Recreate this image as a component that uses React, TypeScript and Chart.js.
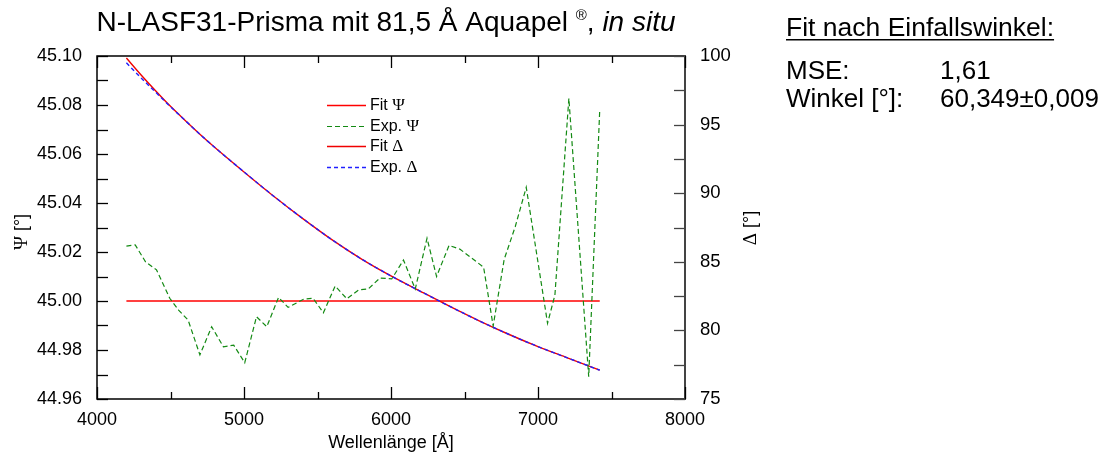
import React, { useEffect, useRef } from "react";
import { Chart, registerables } from "chart.js";

Chart.register(...registerables);

// ---------- data ----------
const EXP_PSI_WAVELENGTH = [
  4200, 4260, 4330, 4405, 4495, 4555, 4620, 4700, 4780, 4860, 4930, 5005, 5085, 5155,
  5235, 5300, 5405, 5470, 5540, 5620, 5700, 5780, 5845, 5925, 6005, 6085, 6165, 6245,
  6310, 6395, 6470, 6630, 6695, 6770, 6845, 6920, 7065, 7115, 7210, 7345, 7420,
];
const EXP_PSI = [
  45.0224, 45.0229, 45.016, 45.0127, 45.0011, 44.9963, 44.9922, 44.978, 44.9895, 44.9813,
  44.982, 44.9748, 44.9936, 44.9895, 45.0015, 44.9974, 45.0007, 45.0011, 44.9952, 45.0061,
  45.0009, 45.0045, 45.0049, 45.0094, 45.009, 45.0167, 45.0049, 45.0256, 45.01, 45.0227,
  45.0211, 45.0138, 44.9898, 45.017, 45.0303, 45.0464, 44.9909, 45.0024, 45.0827, 44.9691,
  45.078,
];

const FIT_WAVELENGTH = [
  4200, 4300, 4400, 4500, 4600, 4700, 4800, 5000, 5200, 5400, 5600, 5800, 6000, 6200,
  6400, 6600, 6800, 7000, 7200, 7420,
];
const FIT_PSI = [
  45.0, 45.0, 45.0, 45.0, 45.0, 45.0, 45.0, 45.0, 45.0, 45.0, 45.0, 45.0, 45.0, 45.0,
  45.0, 45.0, 45.0, 45.0, 45.0, 45.0,
];
const FIT_DELTA = [
  99.85, 98.62, 97.45, 96.33, 95.3, 94.3, 93.35, 91.55, 89.8, 88.15, 86.6, 85.2, 83.97,
  82.85, 81.75, 80.7, 79.72, 78.82, 78.0, 77.1,
];
const EXP_DELTA = [
  99.5, 98.4, 97.35, 96.3, 95.3, 94.3, 93.35, 91.55, 89.8, 88.15, 86.6, 85.2, 83.97,
  82.85, 81.75, 80.7, 79.72, 78.82, 78.0, 77.1,
];

const X_TICKS = [4000, 5000, 6000, 7000, 8000];
const X_MINOR = [4500, 5500, 6500, 7500];
const PSI_TICKS = [44.96, 44.98, 45.0, 45.02, 45.04, 45.06, 45.08, 45.1];
const PSI_MINOR = [44.97, 44.99, 45.01, 45.03, 45.05, 45.07, 45.09];
const DELTA_TICKS = [75, 80, 85, 90, 95, 100];
const DELTA_MINOR = [77.5, 82.5, 87.5, 92.5, 97.5];

const LEGEND_LABELS = ["Fit ", "Exp. ", "Fit ", "Exp. "];
const LEGEND_SYMBOLS = ["Ψ", "Ψ", "Δ", "Δ"];
const TITLE_MAIN = "N-LASF31-Prisma mit 81,5 Å Aquapel ";
const TITLE_SUP = "®";
const TITLE_COMMA = ", ";
const TITLE_ITALIC = "in situ";
const X_TITLE = "Wellenlänge [Å]";
const INFO_HEAD = "Fit nach Einfallswinkel:";
const INFO_LABELS = ["MSE:", "Winkel [°]:"];
const INFO_VALUES = ["1,61", "60,349±0,009"];

// ---------- styling ----------
const SANS = "Arial, 'Liberation Sans', Helvetica, sans-serif";
const SERIF = "'Times New Roman', 'Liberation Serif', serif";
const W = 1104;
const H = 459;
const PLOT_LEFT = 97;
const PLOT_RIGHT = 685;
const PLOT_TOP = 56;
const PLOT_BOTTOM = 399;

const SERIES_COLORS = ["#ff0000", "#138a13", "#f00000", "#2020ff"];
const SERIES_WIDTHS = [1.5, 1.2, 1.4, 1.4];
const SERIES_DASHES: number[][] = [[], [5, 3], [], [4, 3]];

type Run = { text: string; font: string; dy?: number };

function runsWidth(ctx: CanvasRenderingContext2D, runs: Run[]) {
  let w = 0;
  for (const r of runs) {
    ctx.font = r.font;
    w += ctx.measureText(r.text).width;
  }
  return w;
}

function drawRuns(ctx: CanvasRenderingContext2D, runs: Run[], x: number, y: number) {
  let cx = x;
  for (const r of runs) {
    ctx.font = r.font;
    ctx.fillText(r.text, cx, y + (r.dy || 0));
    cx += ctx.measureText(r.text).width;
  }
  return cx - x;
}

const decorPlugin = {
  id: "decor",
  afterDraw(chart: any) {
    const ctx: CanvasRenderingContext2D = chart.ctx;
    const { left, right, top, bottom } = chart.chartArea;
    const xs = chart.scales.x;
    const ys = chart.scales.y;
    const y2 = chart.scales.y2;
    ctx.save();
    ctx.setLineDash([]);
    ctx.strokeStyle = "#000";
    ctx.fillStyle = "#000";

    // frame
    ctx.lineWidth = 1.5;
    ctx.beginPath();
    ctx.moveTo(right, top);
    ctx.lineTo(left, top);
    ctx.lineTo(left, bottom);
    ctx.lineTo(right, bottom);
    ctx.stroke();
    ctx.strokeStyle = "#444";
    ctx.lineWidth = 2;
    ctx.beginPath();
    ctx.moveTo(right, top - 1);
    ctx.lineTo(right, bottom + 1);
    ctx.stroke();

    // inward ticks
    ctx.strokeStyle = "#000";
    ctx.lineWidth = 1.3;
    const tick = (x1: number, y1: number, x2: number, yy2: number) => {
      ctx.beginPath();
      ctx.moveTo(x1, y1);
      ctx.lineTo(x2, yy2);
      ctx.stroke();
    };
    for (const v of X_TICKS) {
      const px = Math.round(xs.getPixelForValue(v)) + 0.5;
      tick(px, bottom, px, bottom - 12);
      tick(px, top, px, top + 12);
    }
    for (const v of X_MINOR) {
      const px = Math.round(xs.getPixelForValue(v)) + 0.5;
      tick(px, bottom, px, bottom - 7);
      tick(px, top, px, top + 7);
    }
    for (const v of [...PSI_TICKS, ...PSI_MINOR]) {
      const py = Math.round(ys.getPixelForValue(v)) + 0.5;
      tick(left, py, left + 11, py);
    }
    ctx.strokeStyle = "#444";
    for (const v of [...DELTA_TICKS, ...DELTA_MINOR]) {
      const py = Math.round(y2.getPixelForValue(v)) + 0.5;
      tick(right, py, right - 11, py);
    }

    // legend
    const legX = 327;
    const legY = [105, 125.5, 146, 166.5];
    ctx.textBaseline = "middle";
    ctx.textAlign = "left";
    for (let i = 0; i < 4; i++) {
      ctx.strokeStyle = SERIES_COLORS[i];
      ctx.lineWidth = SERIES_WIDTHS[i];
      ctx.setLineDash(SERIES_DASHES[i]);
      ctx.beginPath();
      ctx.moveTo(legX, Math.round(legY[i]) + 0.5);
      ctx.lineTo(legX + 39, Math.round(legY[i]) + 0.5);
      ctx.stroke();
      ctx.setLineDash([]);
      ctx.fillStyle = "#000";
      drawRuns(
        ctx,
        [
          { text: LEGEND_LABELS[i], font: `16px ${SANS}` },
          { text: LEGEND_SYMBOLS[i], font: `17px ${SERIF}` },
        ],
        legX + 43,
        legY[i] + 1
      );
    }

    // title
    ctx.fillStyle = "#000";
    ctx.textBaseline = "alphabetic";
    const titleRuns: Run[] = [
      { text: TITLE_MAIN, font: `28px ${SANS}` },
      { text: TITLE_SUP, font: `15px ${SANS}`, dy: -11 },
      { text: TITLE_COMMA, font: `28px ${SANS}` },
      { text: TITLE_ITALIC, font: `italic 28px ${SANS}` },
    ];
    const tw = runsWidth(ctx, titleRuns);
    drawRuns(ctx, titleRuns, 386 - tw / 2, 31);

    // x title
    ctx.font = `18px ${SANS}`;
    ctx.textAlign = "center";
    ctx.fillText(X_TITLE, (left + right) / 2, 448);
    ctx.textAlign = "left";

    // y titles (rotated)
    const rotTitle = (cx: number, cy: number, sym: string) => {
      const runs: Run[] = [
        { text: sym, font: `19px ${SERIF}` },
        { text: " [°]", font: `18px ${SANS}` },
      ];
      ctx.save();
      ctx.translate(cx, cy);
      ctx.rotate(-Math.PI / 2);
      ctx.textBaseline = "middle";
      const w = runsWidth(ctx, runs);
      drawRuns(ctx, runs, -w / 2, 0);
      ctx.restore();
    };
    rotTitle(22, 232, "Ψ");
    rotTitle(751, 228, "Δ");

    // info panel
    ctx.textBaseline = "alphabetic";
    ctx.font = `26.5px ${SANS}`;
    ctx.fillText(INFO_HEAD, 786, 36);
    const hw = ctx.measureText(INFO_HEAD).width;
    ctx.fillRect(786, 39, hw, 1.5);
    const rowsY = [79, 107];
    ctx.font = `26px ${SANS}`;
    for (let i = 0; i < INFO_LABELS.length; i++) {
      ctx.fillText(INFO_LABELS[i], 786, rowsY[i]);
      ctx.fillText(INFO_VALUES[i], 940, rowsY[i]);
    }
    ctx.restore();
  },
};

export default function App() {
  const ref = useRef<HTMLCanvasElement | null>(null);

  useEffect(() => {
    if (!ref.current) return;
    const toXY = (xs: number[], ys: number[]) => xs.map((x, i) => ({ x, y: ys[i] }));
    const chart = new Chart(ref.current, {
      type: "line",
      data: {
        datasets: [
          {
            label: "Fit Ψ",
            data: toXY(FIT_WAVELENGTH, FIT_PSI),
            yAxisID: "y",
            borderColor: SERIES_COLORS[0],
            borderWidth: SERIES_WIDTHS[0],
            pointRadius: 0,
            order: 3,
          },
          {
            label: "Exp. Ψ",
            data: toXY(EXP_PSI_WAVELENGTH, EXP_PSI),
            yAxisID: "y",
            borderColor: SERIES_COLORS[1],
            borderWidth: SERIES_WIDTHS[1],
            borderDash: SERIES_DASHES[1],
            pointRadius: 0,
            tension: 0,
            order: 1,
          },
          {
            label: "Fit Δ",
            data: toXY(FIT_WAVELENGTH, FIT_DELTA),
            yAxisID: "y2",
            borderColor: SERIES_COLORS[2],
            borderWidth: SERIES_WIDTHS[2],
            pointRadius: 0,
            cubicInterpolationMode: "monotone",
            order: 2,
          },
          {
            label: "Exp. Δ",
            data: toXY(FIT_WAVELENGTH, EXP_DELTA),
            yAxisID: "y2",
            borderColor: SERIES_COLORS[3],
            borderWidth: SERIES_WIDTHS[3],
            borderDash: SERIES_DASHES[3],
            pointRadius: 0,
            cubicInterpolationMode: "monotone",
            order: 0,
          },
        ] as any,
      },
      options: {
        responsive: false,
        animation: false,
        devicePixelRatio: 1,
        layout: { padding: { top: PLOT_TOP, left: 0, right: 0, bottom: 0 } },
        plugins: {
          legend: { display: false },
          title: { display: false },
          tooltip: { enabled: false },
        },
        scales: {
          x: {
            type: "linear",
            min: 4000,
            max: 8000,
            grid: { display: false, drawTicks: false },
            border: { display: false },
            afterBuildTicks: (s: any) => {
              s.ticks = X_TICKS.map((value) => ({ value }));
            },
            afterFit: (s: any) => {
              s.height = H - PLOT_BOTTOM;
            },
            ticks: {
              color: "#000",
              padding: 10,
              maxRotation: 0,
              font: { family: SANS, size: 18 },
              callback: (v: any) => String(v),
            },
          },
          y: {
            type: "linear",
            position: "left",
            min: 44.96,
            max: 45.1,
            grid: { display: false, drawTicks: false },
            border: { display: false },
            afterBuildTicks: (s: any) => {
              s.ticks = PSI_TICKS.map((value) => ({ value }));
            },
            afterFit: (s: any) => {
              s.width = PLOT_LEFT;
            },
            ticks: {
              color: "#000",
              padding: 15,
              font: { family: SANS, size: 18 },
              callback: (v: any) => Number(v).toFixed(2),
            },
          },
          y2: {
            type: "linear",
            position: "right",
            min: 75,
            max: 100,
            grid: { display: false, drawTicks: false },
            border: { display: false },
            afterBuildTicks: (s: any) => {
              s.ticks = DELTA_TICKS.map((value) => ({ value }));
            },
            afterFit: (s: any) => {
              s.width = W - PLOT_RIGHT;
            },
            ticks: {
              color: "#000",
              padding: 15,
              font: { family: SANS, size: 18.5 },
              callback: (v: any) => String(v),
            },
          },
        },
      } as any,
      plugins: [decorPlugin],
    });
    return () => chart.destroy();
  }, []);

  return (
    <div
      style={{
        position: "fixed",
        left: 0,
        top: 0,
        width: W,
        height: H,
        background: "#fff",
      }}
    >
      <canvas ref={ref} width={W} height={H} style={{ display: "block" }} />
    </div>
  );
}
